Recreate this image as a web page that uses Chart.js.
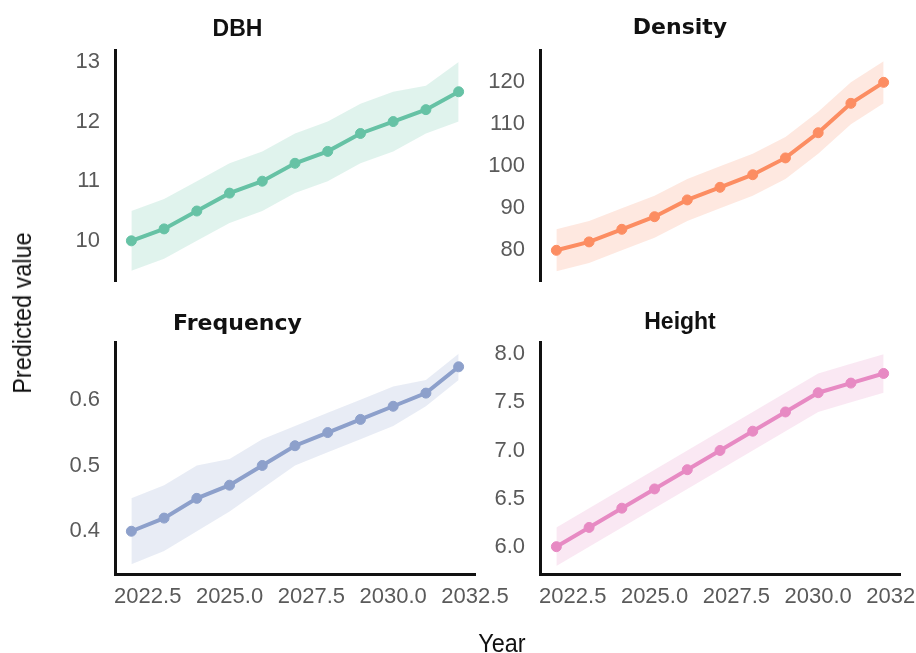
<!DOCTYPE html>
<html>
<head>
<meta charset="utf-8">
<title>Predicted values by year</title>
<script src="https://cdn.jsdelivr.net/npm/chart.js@4.4.1/dist/chart.umd.min.js"></script>
<style>
  html, body { margin: 0; padding: 0; background: #fff; overflow: hidden; }
  body { width: 916px; height: 653px; position: relative; }
  canvas { position: absolute; }
  .axis-title {
    position: absolute;
    font-family: "Liberation Sans", Arial, sans-serif;
    font-size: 26px;
    line-height: 1;
    color: #111;
    white-space: nowrap;
  }
</style>
</head>
<body>
<canvas id="dbhChart" width="530" height="310" style="left:0;top:0"></canvas>
<canvas id="densityChart" width="500" height="310" style="left:460px;top:0"></canvas>
<canvas id="frequencyChart" width="530" height="353" style="left:0;top:300px"></canvas>
<canvas id="heightChart" width="500" height="353" style="left:460px;top:300px"></canvas>
<div class="axis-title" id="yTitle" style="left:22px;top:313px;transform:translate(-50%,-50%) rotate(-90deg) scaleX(0.9)">Predicted value</div>
<div class="axis-title" id="xTitle" style="left:502px;top:643px;transform:translate(-50%,-50%) scaleX(0.9)">Year</div>
<script>
// Years and x tick labels
const years = [2022, 2023, 2024, 2025, 2026, 2027, 2028, 2029, 2030, 2031, 2032];
const xTicks = [2022.5, 2025, 2027.5, 2030, 2032.5];

// DBH
const dbhMean  = [10.0, 10.2, 10.5, 10.8, 11.0, 11.3, 11.5, 11.8, 12.0, 12.2, 12.5];
const dbhLower = [9.5, 9.7, 10.0, 10.3, 10.5, 10.8, 11.0, 11.3, 11.5, 11.8, 12.0];
const dbhUpper = [10.5, 10.7, 11.0, 11.3, 11.5, 11.8, 12.0, 12.3, 12.5, 12.6, 13.0];
const dbhTicks = [10, 11, 12, 13];

// Density
const densityMean  = [80, 82, 85, 88, 92, 95, 98, 102, 108, 115, 120];
const densityLower = [75, 77, 80, 83, 87, 90, 93, 97, 103, 110, 115];
const densityUpper = [85, 87, 90, 93, 97, 100, 103, 107, 113, 120, 125];
const densityTicks = [80, 90, 100, 110, 120];

// Frequency
const frequencyMean  = [0.40, 0.42, 0.45, 0.47, 0.50, 0.53, 0.55, 0.57, 0.59, 0.61, 0.65];
const frequencyLower = [0.35, 0.37, 0.40, 0.43, 0.465, 0.50, 0.52, 0.54, 0.56, 0.59, 0.63];
const frequencyUpper = [0.45, 0.47, 0.50, 0.51, 0.54, 0.56, 0.58, 0.60, 0.62, 0.63, 0.67];
const frequencyTicks = [0.4, 0.5, 0.6];

// Height
const heightMean  = [6.0, 6.2, 6.4, 6.6, 6.8, 7.0, 7.2, 7.4, 7.6, 7.7, 7.8];
const heightLower = [5.8, 6.0, 6.2, 6.4, 6.6, 6.8, 7.0, 7.2, 7.4, 7.5, 7.6];
const heightUpper = [6.2, 6.4, 6.6, 6.8, 7.0, 7.2, 7.4, 7.6, 7.8, 7.9, 8.0];
const heightTicks = [6.0, 6.5, 7.0, 7.5, 8.0];

const sansFont = '"Liberation Sans", Arial, sans-serif';
const comicFont = '"Comic Sans MS", "DejaVu Sans", sans-serif';
const tickColor = '#5a5a5a';

function toPoints(values) {
    return years.map((year, i) => ({ x: year, y: values[i] }));
}

function makePanel(id, cfg) {
    const ctx = document.getElementById(id).getContext('2d');
    return new Chart(ctx, {
        type: 'line',
        data: {
            datasets: [
                {
                    label: cfg.title,
                    data: toPoints(cfg.mean),
                    borderColor: cfg.color,
                    backgroundColor: cfg.color,
                    borderWidth: 4,
                    pointRadius: 5,
                    pointBackgroundColor: cfg.color,
                    pointBorderColor: cfg.color,
                    pointBorderWidth: 1,
                    tension: 0,
                    fill: false
                },
                {
                    label: 'lower',
                    data: toPoints(cfg.lower),
                    borderColor: 'transparent',
                    borderWidth: 0,
                    pointRadius: 0,
                    fill: false
                },
                {
                    label: 'upper',
                    data: toPoints(cfg.upper),
                    borderColor: 'transparent',
                    borderWidth: 0,
                    pointRadius: 0,
                    backgroundColor: cfg.band,
                    fill: '-1'
                }
            ]
        },
        options: {
            responsive: false,
            animation: false,
            events: [],
            layout: {
                // top panels: the y labels' own padding (~28px) sets the bottom edge
                padding: { top: 0, left: 0, right: cfg.padRight, bottom: 0 }
            },
            plugins: {
                legend: { display: false },
                tooltip: { enabled: false },
                title: {
                    display: true,
                    text: cfg.title,
                    color: '#111',
                    font: { family: cfg.titleFont, size: cfg.titleSize, weight: 'bold' },
                    padding: cfg.titlePadding
                }
            },
            scales: {
                x: {
                    type: 'linear',
                    display: cfg.showX,
                    min: 2021.5,
                    max: 2032.5,
                    afterBuildTicks: axis => { axis.ticks = xTicks.map(v => ({ value: v })); },
                    afterFit: scale => { if (cfg.showX) scale.height = 79; },
                    grid: { display: false, drawTicks: false },
                    border: { display: true, color: '#111', width: 3 },
                    ticks: {
                        autoSkip: false,
                        maxRotation: 0,
                        padding: 10,
                        color: tickColor,
                        font: { family: sansFont, size: 22 },
                        callback: value => value.toFixed(1)
                    }
                },
                y: {
                    type: 'linear',
                    min: cfg.yMin,
                    max: cfg.yMax,
                    afterBuildTicks: axis => { axis.ticks = cfg.ticks.map(v => ({ value: v })); },
                    afterFit: scale => { scale.width = cfg.yWidth; },
                    grid: { display: false, drawTicks: false },
                    border: { display: true, color: '#111', width: 3 },
                    ticks: {
                        padding: 15,
                        color: tickColor,
                        font: { family: sansFont, size: 22 },
                        callback: value => value.toFixed(cfg.decimals)
                    }
                }
            }
        }
    });
}

makePanel('dbhChart', {
    title: 'DBH', titleFont: sansFont, titleSize: 23, titlePadding: { top: 16, bottom: 6.4 },
    mean: dbhMean, lower: dbhLower, upper: dbhUpper, ticks: dbhTicks,
    yMin: 9.313, yMax: 13.2, decimals: 0,
    color: '#66c2a5', band: 'rgba(102, 194, 165, 0.2)',
    showX: false, yWidth: 115, padRight: 55
});

makePanel('densityChart', {
    title: 'Density', titleFont: comicFont, titleSize: 22, titlePadding: { top: 14.8, bottom: 8.8 },
    mean: densityMean, lower: densityLower, upper: densityUpper, ticks: densityTicks,
    yMin: 72.5, yMax: 127.7, decimals: 0,
    color: '#fc8d62', band: 'rgba(252, 141, 98, 0.2)',
    showX: false, yWidth: 80, padRight: 60
});

makePanel('frequencyChart', {
    title: 'Frequency', titleFont: comicFont, titleSize: 22, titlePadding: { top: 10.8, bottom: 4.8 },
    mean: frequencyMean, lower: frequencyLower, upper: frequencyUpper, ticks: frequencyTicks,
    yMin: 0.335, yMax: 0.6877, decimals: 1,
    color: '#8da0cb', band: 'rgba(141, 160, 203, 0.2)',
    showX: true, yWidth: 115, padRight: 55
});

makePanel('heightChart', {
    title: 'Height', titleFont: sansFont, titleSize: 23, titlePadding: { top: 9.2, bottom: 5.2 },
    mean: heightMean, lower: heightLower, upper: heightUpper, ticks: heightTicks,
    yMin: 5.716, yMax: 8.127, decimals: 1,
    color: '#e78ac3', band: 'rgba(231, 138, 195, 0.2)',
    showX: true, yWidth: 80, padRight: 60
});
</script>
</body>
</html>
